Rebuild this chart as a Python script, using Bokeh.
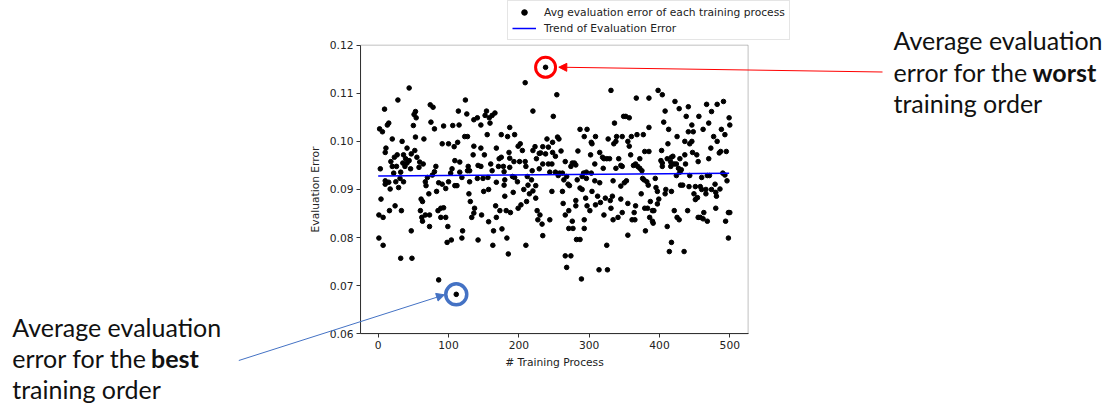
from bokeh.plotting import figure
from bokeh.models import (Legend, LegendItem, Label, Arrow, NormalHead,
                          FixedTicker, LinearAxis, BoxAnnotation,
                          PrintfTickFormatter)
from bokeh.embed import file_html
from bokeh.resources import INLINE

# average evaluation error of each training process (process index, error)
process_idx = [
    44, 28, 9, 74, 78, 114, 53, 51, 54, 15, 13, 75, 50, 2, 6, 80, 93, 106, 115,
    20, 34, 53, 65, 91, 100, 108, 113, 11, 10, 41, 52, 27, 36, 47, 55, 23, 39,
    44, 18, 35, 41, 59, 64, 109, 116, 20, 26, 38, 46, 58, 82, 3, 105, 22, 32,
    80, 77, 103, 116, 10, 15, 25, 31, 36, 70, 67, 86, 91, 100, 109, 112, 10,
    17, 29, 68, 83, 96, 72, 4, 61, 63, 24, 16, 33, 1, 7, 60, 62, 63, 67, 73,
    85, 89, 93, 89, 96, 73, 99, 47, 1, 7, 104, 98, 32, 48, 86,
    209, 124, 126, 154, 152, 166, 162, 158, 136, 141, 146, 159, 187, 220, 249,
    123, 127, 155, 175, 184, 194, 136, 146, 168, 199, 202, 186, 205, 220, 223,
    229, 234, 240, 248, 242, 231, 238, 248, 135, 151, 175, 172, 187, 225, 128,
    127, 130, 142, 146, 160, 171, 178, 187, 193, 201, 209, 210, 219, 229, 234,
    242, 247, 244, 119, 141, 149, 156, 162, 179, 191, 194, 198, 212, 218, 130,
    168, 180, 157, 150, 179, 192, 207, 213, 220, 224, 215, 129, 180, 224, 131,
    167, 203, 211, 199, 137, 136, 133, 147, 173, 182, 188, 226, 230, 227, 233,
    244, 168, 157, 120, 119, 142, 164, 176, 183, 234, 163, 210, 185,
    331, 254, 367, 385, 349, 352, 357, 336, 287, 297, 385, 293, 309, 327, 339,
    347, 360, 368, 377, 255, 257, 304, 303, 335, 338, 355, 357, 359, 379, 385,
    252, 260, 284, 302, 315, 319, 321, 325, 329, 342, 372, 266, 276, 279, 281,
    274, 308, 320, 345, 347, 363, 366, 369, 372, 375, 338, 252, 258, 262, 292,
    296, 303, 256, 268, 264, 270, 272, 283, 296, 290, 308, 315, 334, 350, 353,
    345, 376, 378, 382, 384, 287, 290, 247, 262, 304, 312, 316, 323, 330, 333,
    374, 355, 345, 295, 281, 263, 281, 297, 301, 309, 331, 366, 379, 383, 271,
    266, 321, 341, 347, 334, 361, 364, 365, 276, 293, 271, 277, 293, 355, 282,
    287, 325, 266, 274, 268, 314, 326, 289,
    398, 404, 422, 428, 441, 467, 482, 491, 474, 408, 438, 456, 499, 500, 406,
    446, 470, 413, 441, 448, 462, 488, 493, 477, 425, 436, 443, 446, 482, 412,
    473, 487, 485, 495, 403, 447, 453, 436, 419, 429, 402, 404, 411, 416, 417,
    470, 455, 421, 424, 437, 404, 416, 427, 431, 429, 424, 443, 460, 468, 471,
    490, 493, 496, 394, 430, 433, 442, 451, 458, 460, 466, 474, 479, 486, 480,
    395, 397, 409, 408, 417, 449, 451, 454, 466, 481, 399, 387, 397, 390, 392,
    386, 390, 391, 421, 440, 480, 425, 428, 455, 458, 463, 462, 468, 498, 500,
    494, 411, 380, 498, 417, 414, 435,
    111, 238,
]
eval_error = [
    0.1111, 0.1086, 0.1067, 0.1076, 0.1071, 0.1063, 0.1062, 0.1056, 0.1049,
    0.1038, 0.1034, 0.1040, 0.1033, 0.1026, 0.1020, 0.1026, 0.1032, 0.1033,
    0.1034, 0.1005, 0.1000, 0.1009, 0.1005, 0.0995, 0.0995, 0.0989, 0.0998,
    0.0986, 0.0977, 0.0986, 0.0981, 0.0972, 0.0972, 0.0974, 0.0967, 0.0967,
    0.0964, 0.0960, 0.0958, 0.0955, 0.0955, 0.0957, 0.0953, 0.0960, 0.0957,
    0.0948, 0.0948, 0.0948, 0.0943, 0.0946, 0.0948, 0.0943, 0.0943, 0.0934,
    0.0936, 0.0937, 0.0930, 0.0934, 0.0936, 0.0918, 0.0915, 0.0916, 0.0923,
    0.0916, 0.0925, 0.0916, 0.0914, 0.0911, 0.0916, 0.0908, 0.0908, 0.0911,
    0.0901, 0.0904, 0.0908, 0.0896, 0.0902, 0.0891, 0.0880, 0.0880, 0.0875,
    0.0866, 0.0856, 0.0856, 0.0847, 0.0842, 0.0856, 0.0842, 0.0834, 0.0847,
    0.0847, 0.0856, 0.0861, 0.0862, 0.0842, 0.0842, 0.0823, 0.0823, 0.0814,
    0.0799, 0.0784, 0.0795, 0.0790, 0.0757, 0.0757, 0.0712,
    0.1122, 0.1086, 0.1057, 0.1063, 0.1054, 0.1059, 0.1054, 0.1049, 0.1045,
    0.1049, 0.1034, 0.1038, 0.1029, 0.1063, 0.1052, 0.1010, 0.1010, 0.1014,
    0.1014, 0.1010, 0.1014, 0.0990, 0.0986, 0.0986, 0.0990, 0.0995, 0.0977,
    0.0981, 0.0981, 0.0989, 0.0975, 0.0989, 0.1005, 0.0998, 0.0988, 0.0976,
    0.0974, 0.0977, 0.0972, 0.0972, 0.0967, 0.0964, 0.0965, 0.0964, 0.0948,
    0.0939, 0.0939, 0.0950, 0.0948, 0.0953, 0.0948, 0.0948, 0.0946, 0.0958,
    0.0958, 0.0958, 0.0948, 0.0939, 0.0943, 0.0953, 0.0953, 0.0953, 0.0936,
    0.0925, 0.0923, 0.0923, 0.0925, 0.0939, 0.0937, 0.0927, 0.0925, 0.0916,
    0.0927, 0.0920, 0.0916, 0.0915, 0.0920, 0.0900, 0.0896, 0.0909, 0.0894,
    0.0900, 0.0909, 0.0897, 0.0908, 0.0891, 0.0891, 0.0886, 0.0882, 0.0875,
    0.0866, 0.0868, 0.0875, 0.0861, 0.0861, 0.0851, 0.0842, 0.0847, 0.0856,
    0.0856, 0.0852, 0.0856, 0.0847, 0.0837, 0.0828, 0.0837, 0.0842, 0.0833,
    0.0814, 0.0799, 0.0795, 0.0814, 0.0818, 0.0799, 0.0804, 0.0784, 0.0784,
    0.0766,
    0.1106, 0.1097, 0.1090, 0.1090, 0.1052, 0.1052, 0.1049, 0.1038, 0.1025,
    0.1025, 0.1029, 0.1010, 0.1010, 0.1005, 0.1010, 0.1010, 0.1010, 0.1014,
    0.1014, 0.1009, 0.1005, 0.0995, 0.0998, 0.0995, 0.1000, 0.1000, 0.0990,
    0.0972, 0.0979, 0.0979, 0.0969, 0.0980, 0.0980, 0.0972, 0.0977, 0.0967,
    0.0964, 0.0964, 0.0964, 0.0964, 0.0964, 0.0958, 0.0955, 0.0955, 0.0951,
    0.0948, 0.0953, 0.0944, 0.0950, 0.0948, 0.0950, 0.0953, 0.0948, 0.0944,
    0.0939, 0.0944, 0.0936, 0.0934, 0.0934, 0.0934, 0.0936, 0.0934, 0.0929,
    0.0927, 0.0920, 0.0911, 0.0908, 0.0920, 0.0923, 0.0927, 0.0918, 0.0914,
    0.0918, 0.0914, 0.0918, 0.0907, 0.0923, 0.0920, 0.0916, 0.0909, 0.0903,
    0.0900, 0.0896, 0.0896, 0.0896, 0.0886, 0.0873, 0.0882, 0.0877, 0.0886,
    0.0891, 0.0871, 0.0880, 0.0882, 0.0877, 0.0871, 0.0866, 0.0866, 0.0856,
    0.0868, 0.0861, 0.0866, 0.0861, 0.0861, 0.0856, 0.0847, 0.0847, 0.0842,
    0.0852, 0.0837, 0.0837, 0.0852, 0.0837, 0.0834, 0.0837, 0.0819, 0.0819,
    0.0819, 0.0805, 0.0796, 0.0796, 0.0784, 0.0762, 0.0762, 0.0738, 0.0733,
    0.0733, 0.0714,
    0.1106, 0.1097, 0.1083, 0.1068, 0.1072, 0.1077, 0.1077, 0.1083, 0.1062,
    0.1063, 0.1052, 0.1052, 0.1049, 0.1034, 0.1040, 0.1034, 0.1038, 0.1025,
    0.1020, 0.1020, 0.1025, 0.1025, 0.1014, 0.1010, 0.1010, 0.1000, 0.0995,
    0.1000, 0.1000, 0.0995, 0.0986, 0.0979, 0.0976, 0.0979, 0.0981, 0.0977,
    0.0972, 0.0972, 0.0969, 0.0964, 0.0960, 0.0955, 0.0964, 0.0957, 0.0967,
    0.0964, 0.0958, 0.0953, 0.0953, 0.0953, 0.0948, 0.0948, 0.0944, 0.0941,
    0.0936, 0.0929, 0.0929, 0.0925, 0.0929, 0.0929, 0.0934, 0.0930, 0.0918,
    0.0923, 0.0909, 0.0909, 0.0906, 0.0906, 0.0906, 0.0900, 0.0900, 0.0900,
    0.0911, 0.0901, 0.0894, 0.0904, 0.0896, 0.0900, 0.0891, 0.0896, 0.0891,
    0.0879, 0.0883, 0.0891, 0.0886, 0.0880, 0.0875, 0.0870, 0.0856, 0.0856,
    0.0842, 0.0834, 0.0830, 0.0856, 0.0856, 0.0861, 0.0842, 0.0837, 0.0842,
    0.0842, 0.0852, 0.0839, 0.0834, 0.0852, 0.0852, 0.0834, 0.0823, 0.0814,
    0.0799, 0.0790, 0.0771, 0.0771,
    0.0682, 0.1154,
]

# fitted trend of the evaluation error
trend_x = [0, 499]
trend_y = [0.0928, 0.0934]

# best and worst training orders
best_idx, best_err = [111], [0.0682]
worst_idx, worst_err = [238], [0.1154]

x_ticks = [0, 100, 200, 300, 400, 500]
y_ticks = [0.06, 0.07, 0.08, 0.09, 0.10, 0.11, 0.12]

# axes box in data units (matplotlib-style 5% margins)
X_LO, X_HI = -25, 526
Y_LO, Y_HI = 0.06, 0.12

TICK_FONT = "DejaVu Sans"
TICK_SIZE = "10.7px"
NOTE_FONT = "Lato"
INK = "#222222"
SPINE = "#333333"

# The frame fills the whole canvas so the callouts around the chart can be
# drawn; the axes are pinned to the box edges with fixed_location.
p = figure(width=1113, height=410, title=None,
           x_range=(-537.1, 1045.6), y_range=(0.04405, 0.12929),
           x_axis_location=None, y_axis_location=None,
           output_backend="svg", toolbar_location=None,
           min_border=0)
p.grid.visible = False
p.outline_line_color = None

box = BoxAnnotation(left=X_LO, right=X_HI, bottom=Y_LO, top=Y_HI,
                    fill_alpha=0, line_color=SPINE, line_width=1)
p.add_layout(box)

dots = p.scatter(process_idx, eval_error, size=4.6, color="black")
trend = p.line(trend_x, trend_y, line_color="#0000ff", line_width=1.5)

p.scatter(worst_idx, worst_err, size=20, fill_color=None,
          line_color="#ff0000", line_width=3)
p.scatter(best_idx, best_err, size=21, fill_color=None,
          line_color="#4472c4", line_width=3.5)

xaxis = LinearAxis(fixed_location=Y_LO, bounds=(X_LO, X_HI),
                   ticker=FixedTicker(ticks=x_ticks),
                   axis_label="# Training Process")
yaxis = LinearAxis(fixed_location=X_LO, bounds=(Y_LO, Y_HI),
                   ticker=FixedTicker(ticks=y_ticks),
                   formatter=PrintfTickFormatter(format="%.2f"),
                   axis_label="Evaluation Error")
for ax in (xaxis, yaxis):
    ax.axis_line_color = SPINE
    ax.major_tick_line_color = SPINE
    ax.major_tick_out = 4
    ax.major_tick_in = 0
    ax.minor_tick_out = 0
    ax.minor_tick_in = 0
    ax.major_label_text_font = TICK_FONT
    ax.major_label_text_font_size = TICK_SIZE
    ax.major_label_text_color = INK
    ax.axis_label_text_font = TICK_FONT
    ax.axis_label_text_font_size = TICK_SIZE
    ax.axis_label_text_font_style = "normal"
    ax.axis_label_text_color = INK
    ax.major_label_standoff = 3
xaxis.axis_label_standoff = 4
yaxis.axis_label_standoff = 5
p.add_layout(xaxis, "below")
p.add_layout(yaxis, "left")

legend = Legend(items=[
    LegendItem(label="Avg evaluation error of each training process", renderers=[dots]),
    LegendItem(label="Trend of Evaluation Error", renderers=[trend]),
], location=(507, 370))
legend.label_text_font = TICK_FONT
legend.label_text_font_size = TICK_SIZE
legend.label_text_color = INK
legend.glyph_width = 24
legend.glyph_height = 14
legend.label_height = 14
legend.label_standoff = 8
legend.padding = 4
legend.spacing = 2
legend.margin = 0
legend.border_line_color = "#cccccc"
legend.background_fill_alpha = 0.8
p.add_layout(legend)

def note(x, y, text, bold=False):
    p.add_layout(Label(x=x, y=y, x_units="screen", y_units="screen", text=text,
                       text_font=NOTE_FONT, text_font_size="25px",
                       text_font_style="bold" if bold else "normal",
                       text_color="#111111", text_baseline="alphabetic"))

# worst-order callout (top right)
note(893, 371, "Average evaluation")
note(893, 339, "error for the")
note(1032, 339, "worst", bold=True)
note(893, 308, "training order")

# best-order callout (bottom left)
note(11.7, 84, "Average evaluation")
note(11.7, 53, "error for the")
note(150.5, 53, "best", bold=True)
note(11.7, 21.5, "training order")

p.add_layout(Arrow(end=NormalHead(size=8, fill_color="#ff0000", line_color="#ff0000"),
                   x_start=882, y_start=338.5, x_end=558.3, y_end=343.3,
                   start_units="screen", end_units="screen",
                   line_color="#ff0000", line_width=1))
p.add_layout(Arrow(end=NormalHead(size=8, fill_color="#4472c4", line_color="#4472c4"),
                   x_start=238.3, y_start=50, x_end=444, y_end=115.7,
                   start_units="screen", end_units="screen",
                   line_color="#4472c4", line_width=1))

open("out.html", "w").write(file_html(p, INLINE))
